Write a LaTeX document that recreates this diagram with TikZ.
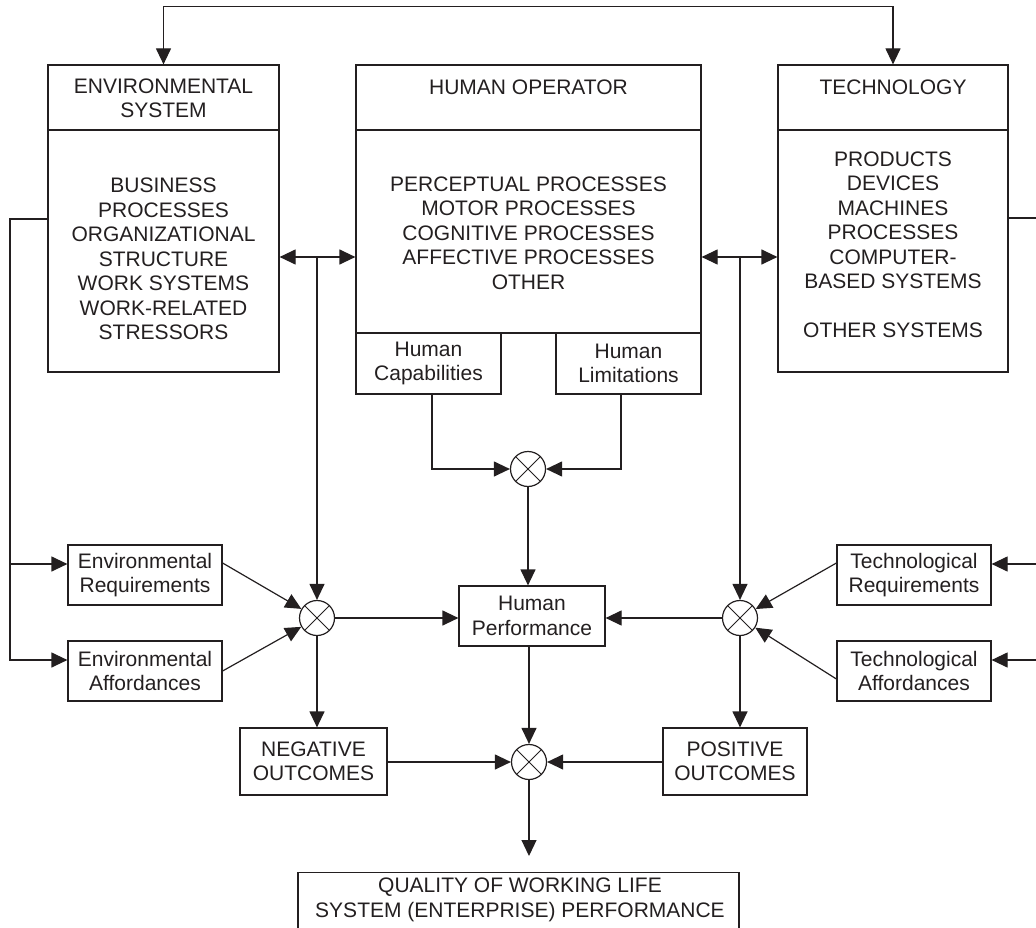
\documentclass[tikz,border=0pt]{standalone}
\usepackage{fontspec}
\setmainfont{Liberation Sans}
\usetikzlibrary{arrows.meta}
\definecolor{ink}{RGB}{35,31,32}
\begin{document}
\begin{tikzpicture}[x=1pt,y=-1pt,
  color=ink, line width=1.2pt,
  every node/.style={font=\fontsize{21}{24.5}\selectfont, text=ink},
  box/.style={draw, rectangle, inner sep=0pt, align=center},
  lbl/.style={align=center, inner sep=0pt},
  mult/.style={draw, circle, minimum size=35, inner sep=0pt,
    path picture={\draw[line width=1pt]
      (path picture bounding box.south west) -- (path picture bounding box.north east)
      (path picture bounding box.north west) -- (path picture bounding box.south east);}},
  tri/.style={-{Triangle[length=16pt,width=15pt]}},
  bitri/.style={{Triangle[length=16pt,width=15pt]}-{Triangle[length=16pt,width=15pt]}},
]
\clip (0,0) rectangle (1036,928);

% --- the three system blocks ---
\node[box, minimum width=231, minimum height=65]  (envtitle) at (163.5,97.5) {};
\node[box, minimum width=231, minimum height=242] (envbody)  at (163.5,251) {};
\node[lbl] (envtitletxt) at (163.5,98.5) {ENVIRONMENTAL\\SYSTEM};
\node[lbl] (envbodytxt) at (163.5,259) {BUSINESS\\PROCESSES\\ORGANIZATIONAL\\STRUCTURE\\WORK SYSTEMS\\WORK-RELATED\\STRESSORS};

\node[box, minimum width=345, minimum height=65]  (humtitle) at (528.5,97.5) {};
\node[box, minimum width=345, minimum height=203] (humbody)  at (528.5,231.5) {};
\node[lbl] (humtitletxt) at (528.5,87) {HUMAN OPERATOR};
\node[lbl] (humbodytxt) at (528.5,233) {PERCEPTUAL PROCESSES\\MOTOR PROCESSES\\COGNITIVE PROCESSES\\AFFECTIVE PROCESSES\\OTHER};
\node[box, minimum width=145, minimum height=61] (cap) at (428.5,363.5) {Human\\Capabilities};
\node[box, minimum width=145, minimum height=61] (lim) at (628.5,363.5) {Human\\Limitations};

\node[box, minimum width=230, minimum height=65]  (techtitle) at (893,97.5) {};
\node[box, minimum width=230, minimum height=242] (techbody)  at (893,251) {};
\node[lbl] (techtitletxt) at (893,87) {TECHNOLOGY};
\node[lbl] (techbodytxt) at (893,245) {PRODUCTS\\DEVICES\\MACHINES\\PROCESSES\\COMPUTER-\\BASED SYSTEMS\\[24.5pt]OTHER SYSTEMS};

% --- requirement / affordance blocks ---
\node[box, minimum width=154, minimum height=60] (envreq)  at (145,575) {Environmental\\Requirements};
\node[box, minimum width=154, minimum height=60] (envaff)  at (145,671) {Environmental\\Affordances};
\node[box, minimum width=154, minimum height=60] (techreq) at (914,575) {Technological\\Requirements};
\node[box, minimum width=154, minimum height=60] (techaff) at (914,671) {Technological\\Affordances};

\node[box, minimum width=146, minimum height=60] (hp)  at (532,616) {Human\\Performance};
\node[box, minimum width=147, minimum height=67] (neg) at (313.5,761.5) {NEGATIVE\\OUTCOMES};
\node[box, minimum width=144, minimum height=67] (pos) at (735,761.5) {POSITIVE\\OUTCOMES};

\node[box, minimum width=441, minimum height=80, anchor=north] (qwl) at (518.5,872) {};
\node[lbl] (qwltxt) at (520,900) {QUALITY OF WORKING LIFE\\SYSTEM (ENTERPRISE) PERFORMANCE};

% --- multiplication junctions ---
\node[mult] (mU) at (528,469) {};
\node[mult] (mL) at (317,618) {};
\node[mult] (mR) at (740,618) {};
\node[mult] (mB) at (529,762) {};

% --- bus coordinates ---
\coordinate (jl) at (317,257);
\coordinate (jr) at (740,257);
\coordinate (la) at (10,219);
\coordinate (lb) at (10,564);
\coordinate (lc) at (10,660);
\coordinate (ra) at (1046,218);
\coordinate (rb) at (1046,564);
\coordinate (rc) at (1046,660);

% --- connectors ---
\draw[bitri] (envtitle.north) -- ++(0,-58) -| (techtitle.north);

\draw[bitri] (envbody.east |- jl) -- (humbody.west |- jl);
\draw[tri] (jl) -- (mL);
\draw[bitri] (humbody.east |- jr) -- (techbody.west |- jr);
\draw[tri] (jr) -- (mR);

\draw[tri] (envbody.west |- la) -- (la) -- (lc) -- (envaff.west |- lc);
\draw[tri] (lb) -- (envreq.west |- lb);
\draw[tri] (techbody.east |- ra) -- (ra) -- (rc) -- (techaff.east |- rc);
\draw[tri] (rb) -- (techreq.east |- rb);

\draw[tri] ([yshift=12]envreq.east) -- (mL);
\draw[tri] (envaff.east) -- (mL);
\draw[tri] ([yshift=12]techreq.west) -- (mR);
\draw[tri] ([yshift=-8]techaff.west) -- (mR);

\draw[tri] ([xshift=3.5]cap.south) |- (mU);
\draw[tri] ([xshift=-7.5]lim.south) |- (mU);
\draw[tri] (mU) -- (mU |- hp.north);

\draw[tri] (mL) -- (mL -| hp.west);
\draw[tri] (mR) -- (mR -| hp.east);
\draw[tri] (mL) -- (mL |- neg.north);
\draw[tri] (mR) -- (mR |- pos.north);

\draw[tri] (mB |- hp.south) -- (mB);
\draw[tri] (neg.east |- mB) -- (mB);
\draw[tri] (pos.west |- mB) -- (mB);
\draw[tri, shorten >=16pt] (mB) -- (mB |- qwl.north);
\end{tikzpicture}
\end{document}
